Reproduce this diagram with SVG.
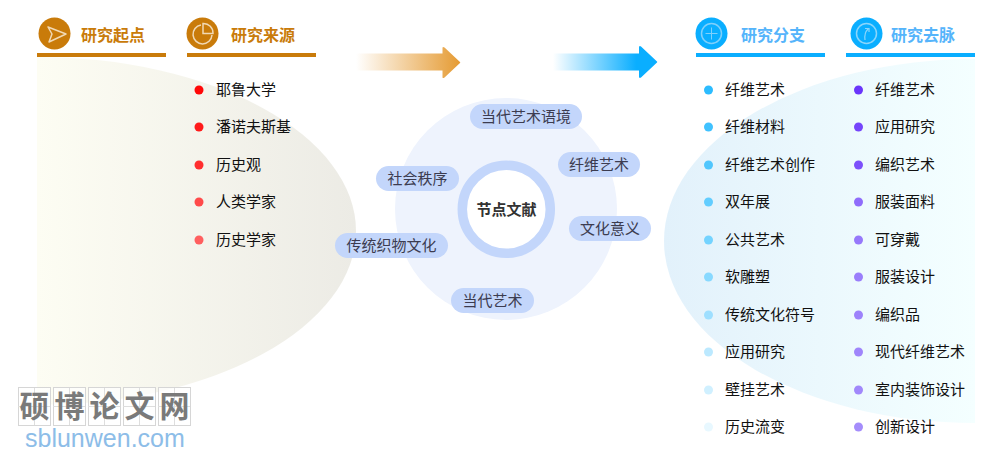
<svg xmlns="http://www.w3.org/2000/svg" width="981" height="459" viewBox="0 0 981 459">
<style>
text{font-family:"Noto Sans CJK SC","Noto Sans",sans-serif}
.h{font-size:16px;font-weight:700}
.o{fill:#c97b0a}.b{fill:#55b4fb}
.t{font-size:15px;fill:#111}
.k{font-size:15px;fill:#3c3c50;text-anchor:middle}
.p{fill:#c3d6fb}
.wb{fill:#fff;fill-opacity:.7;stroke:#d6d6d6;stroke-width:1}
.wg{stroke:#dedede;stroke-width:1}
.wt{font-size:30px;fill:#7a7a7a;text-anchor:middle;font-weight:700;font-family:"Noto Sans CJK SC",sans-serif}
</style>
<defs>
<linearGradient id="gl" x1="37" x2="356" y1="0" y2="0" gradientUnits="userSpaceOnUse"><stop offset="0" stop-color="#fdfdf3"/><stop offset="1" stop-color="#ecebe5"/></linearGradient>
<linearGradient id="gr" x1="664" x2="975" y1="0" y2="0" gradientUnits="userSpaceOnUse"><stop offset="0" stop-color="#e2f1fb"/><stop offset="1" stop-color="#f4ffff"/></linearGradient>
<linearGradient id="ga" x1="356" x2="460" y1="0" y2="0" gradientUnits="userSpaceOnUse"><stop offset="0" stop-color="#e59b33" stop-opacity="0"/><stop offset="1" stop-color="#e59b33"/></linearGradient>
<linearGradient id="gb" x1="553" x2="657" y1="0" y2="0" gradientUnits="userSpaceOnUse"><stop offset="0" stop-color="#0aaeff" stop-opacity="0"/><stop offset=".8" stop-color="#0aaeff"/></linearGradient>
<clipPath id="cl"><rect x="37" y="57" width="330" height="360"/></clipPath>
<clipPath id="cr"><rect x="655" y="50" width="320" height="380"/></clipPath>
</defs>
<g id="backgrounds">
<ellipse cx="37" cy="231" rx="319" ry="174" fill="url(#gl)" clip-path="url(#cl)"/>
<ellipse cx="975" cy="241" rx="311" ry="182" fill="url(#gr)" clip-path="url(#cr)"/>
<circle cx="506" cy="209" r="111" fill="#eef3fd"/>
</g>
<g id="arrows">
<path d="M356 53.500H442.500V47.500Q443 46.500 444.500 47.500L460 62Q460.500 62.500 460 63L444.500 77.500Q443 78.500 442.500 77.500V70.500H356Z" fill="url(#ga)"/>
<path d="M553 53.500H639V47Q639.500 45.500 641 46.500L657 61.500Q657.500 62 657 62.500L641 77.500Q639.500 78.500 639 77V70.500H553Z" fill="url(#gb)"/>
</g>
<g id="head-origin">
<circle cx="54.500" cy="33.500" r="16" fill="#c97b0a"/>
<path d="M48 27L66 34L49 42L52 34Z" fill="none" stroke="#f1d9b5" stroke-width="1.500" stroke-linejoin="round"/>
<text class="h o" x="81" y="41">研究起点</text>
<rect x="37" y="53" width="129" height="4" fill="#c97b0a"/>
</g>
<g id="head-source">
<circle cx="202.500" cy="33.500" r="16" fill="#c97b0a"/>
<path d="M201 25A9.500 9.500 0 1 0 212 35" fill="none" stroke="#f1d9b5" stroke-width="1.500"/>
<path d="M203 23.500A9.500 9.500 0 0 1 213 33.500H203Z" fill="none" stroke="#f1d9b5" stroke-width="1.500"/>
<text class="h o" x="231" y="41">研究来源</text>
<rect x="187" y="53" width="129" height="4" fill="#c97b0a"/>
</g>
<g id="head-branch">
<circle cx="711.500" cy="33.500" r="16" fill="#0aaeff"/>
<circle cx="711.500" cy="33.500" r="10" fill="none" stroke="#7fd0fb" stroke-width="1.500"/>
<path d="M705.500 33.500H717.500M711.500 27.500V39.500" stroke="#7fd0fb" stroke-width="1" fill="none"/>
<text class="h b" x="741" y="41">研究分支</text>
<rect x="696" y="53" width="129" height="4" fill="#0aaeff"/>
</g>
<g id="head-trace">
<circle cx="866.500" cy="33.500" r="16" fill="#0aaeff"/>
<circle cx="866.500" cy="33.500" r="10" fill="none" stroke="#8ad5fb" stroke-width="1.500"/>
<path d="M865 40Q864 33 868 29M865 28.500L869 28.500L869 32" stroke="#8ad5fb" stroke-width="1.200" fill="none"/>
<text class="h b" x="891" y="41">研究去脉</text>
<rect x="846" y="53" width="129" height="4" fill="#0aaeff"/>
</g>
<g id="list-source">
<circle cx="199" cy="90" r="4.500" fill="#ff0808"/><text class="t" x="216" y="94.500">耶鲁大学</text>
<circle cx="199" cy="127" r="4.500" fill="#ff1a1a"/><text class="t" x="216" y="132">潘诺夫斯基</text>
<circle cx="199" cy="165" r="4.500" fill="#ff2e2e"/><text class="t" x="216" y="169.500">历史观</text>
<circle cx="199" cy="202" r="4.500" fill="#ff4a4a"/><text class="t" x="216" y="207">人类学家</text>
<circle cx="199" cy="240" r="4.500" fill="#ff5f5f"/><text class="t" x="216" y="244.500">历史学家</text>
</g>
<g id="list-branch">
<circle cx="708.500" cy="90" r="4.500" fill="#2cbcff"/><text class="t" x="725" y="94.500">纤维艺术</text>
<circle cx="708.500" cy="127" r="4.500" fill="#40c2ff"/><text class="t" x="725" y="132">纤维材料</text>
<circle cx="708.500" cy="165" r="4.500" fill="#50c6fd"/><text class="t" x="725" y="169.500">纤维艺术创作</text>
<circle cx="708.500" cy="202" r="4.500" fill="#62cdff"/><text class="t" x="725" y="207">双年展</text>
<circle cx="708.500" cy="240" r="4.500" fill="#74d3ff"/><text class="t" x="725" y="244.500">公共艺术</text>
<circle cx="708.500" cy="277" r="4.500" fill="#88d9ff"/><text class="t" x="725" y="282">软雕塑</text>
<circle cx="708.500" cy="315" r="4.500" fill="#9edfff"/><text class="t" x="725" y="319.500">传统文化符号</text>
<circle cx="708.500" cy="352" r="4.500" fill="#bce9ff"/><text class="t" x="725" y="357">应用研究</text>
<circle cx="708.500" cy="390" r="4.500" fill="#d0f0ff"/><text class="t" x="725" y="394.500">壁挂艺术</text>
<circle cx="708.500" cy="427" r="4.500" fill="#e8f8ff"/><text class="t" x="725" y="432">历史流变</text>
</g>
<g id="list-trace">
<circle cx="858.500" cy="90" r="4.500" fill="#6a35fb"/><text class="t" x="875" y="94.500">纤维艺术</text>
<circle cx="858.500" cy="127" r="4.500" fill="#7545fb"/><text class="t" x="875" y="132">应用研究</text>
<circle cx="858.500" cy="165" r="4.500" fill="#7c50fb"/><text class="t" x="875" y="169.500">编织艺术</text>
<circle cx="858.500" cy="202" r="4.500" fill="#8f6cfb"/><text class="t" x="875" y="207">服装面料</text>
<circle cx="858.500" cy="240" r="4.500" fill="#9678fb"/><text class="t" x="875" y="244.500">可穿戴</text>
<circle cx="858.500" cy="277" r="4.500" fill="#9a7efb"/><text class="t" x="875" y="282">服装设计</text>
<circle cx="858.500" cy="315" r="4.500" fill="#9d82fb"/><text class="t" x="875" y="319.500">编织品</text>
<circle cx="858.500" cy="352" r="4.500" fill="#9f85fb"/><text class="t" x="875" y="357">现代纤维艺术</text>
<circle cx="858.500" cy="390" r="4.500" fill="#a188fb"/><text class="t" x="875" y="394.500">室内装饰设计</text>
<circle cx="858.500" cy="427" r="4.500" fill="#a58dfb"/><text class="t" x="875" y="432">创新设计</text>
</g>
<g id="center-node">
<circle cx="506.300" cy="209.300" r="44" fill="#fff" stroke="#c3d6fb" stroke-width="9.500"/>
<text x="506.500" y="214.500" font-size="15" font-weight="700" fill="#333" text-anchor="middle">节点文献</text>
</g>
<g id="k1"><rect class="p" x="470" y="104" width="112" height="25" rx="12.500"/><text class="k" x="526" y="122">当代艺术语境</text></g>
<g id="k2"><rect class="p" x="558" y="152" width="82" height="25" rx="12.500"/><text class="k" x="599" y="170">纤维艺术</text></g>
<g id="k3"><rect class="p" x="376" y="166" width="83" height="25" rx="12.500"/><text class="k" x="417.500" y="184">社会秩序</text></g>
<g id="k4"><rect class="p" x="569" y="216" width="82" height="25" rx="12.500"/><text class="k" x="610" y="234">文化意义</text></g>
<g id="k5"><rect class="p" x="335" y="233" width="113" height="25" rx="12.500"/><text class="k" x="391.500" y="251">传统织物文化</text></g>
<g id="k6"><rect class="p" x="451" y="288" width="83" height="25" rx="12.500"/><text class="k" x="492.500" y="306">当代艺术</text></g>
<g id="watermark">
<rect class="wb" x="18.500" y="387.500" width="32" height="38"/><rect class="wb" x="53.500" y="387.500" width="32" height="38"/><rect class="wb" x="88.500" y="387.500" width="32" height="38"/><rect class="wb" x="123.500" y="387.500" width="32" height="38"/><rect class="wb" x="158.500" y="387.500" width="32" height="38"/>
<path class="wg" d="M34.500 388V425M18 406.500H50M69.500 388V425M53 406.500H85M104.500 388V425M88 406.500H120M139.500 388V425M123 406.500H155M174.500 388V425M158 406.500H190"/>
<text class="wt" x="34.500" y="417">硕</text><text class="wt" x="69.500" y="417">博</text><text class="wt" x="104.500" y="417">论</text><text class="wt" x="139.500" y="417">文</text><text class="wt" x="174.500" y="417">网</text>
<text x="25" y="447" font-size="25" fill="#8dbde8" style="font-family:'Liberation Sans',sans-serif">sblunwen.com</text>
</g>
</svg>
